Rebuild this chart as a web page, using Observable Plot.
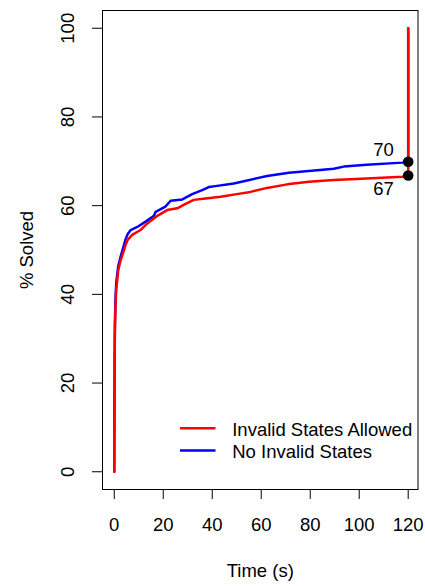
<!DOCTYPE html>
<html>
<head>
<meta charset="utf-8">
<script src="https://cdn.jsdelivr.net/npm/d3@7"></script>
<script src="https://cdn.jsdelivr.net/npm/@observablehq/plot@0.6"></script>
<style>
  html, body { margin: 0; padding: 0; background: #ffffff; }
</style>
</head>
<body>
<div id="chart"></div>
<script>
// ---- data ----
const seriesNames = ["Invalid States Allowed", "No Invalid States"];
const seriesColors = ["#ff0000", "#0000ff"];

const redTime   = [0, 0.05, 0.12, 0.25, 0.5, 0.8, 1.6, 2.5, 3.9, 4.6, 5.5, 7.3, 10.7, 13.5, 17.6, 21.6, 25.7, 29.1, 32.5, 37.3, 43.4, 50, 55.6, 62.4, 70.6, 79.4, 89.6, 103, 117.6, 120, 120];
const redSolved = [0, 10, 20, 31, 37, 41, 45.3, 47.5, 49.8, 51.1, 52.3, 53.4, 54.5, 56.0, 57.7, 59.0, 59.4, 60.4, 61.3, 61.6, 62.0, 62.6, 63.1, 64.0, 64.8, 65.4, 65.8, 66.1, 66.5, 66.8, 100];

const blueTime   = [0, 0.05, 0.12, 0.25, 0.5, 0.8, 1.6, 2.6, 3.9, 4.6, 5.5, 6.7, 9.4, 12.8, 16.2, 16.9, 20.9, 23, 27.8, 31.8, 35.9, 38.6, 41.3, 48.8, 58.4, 62.4, 71.3, 79.4, 89.6, 93.7, 103, 117.6, 120, 120];
const blueSolved = [0, 12, 22, 33, 39, 42.5, 46.3, 48.5, 51, 52.4, 53.6, 54.5, 55.2, 56.4, 57.7, 58.6, 59.8, 61.1, 61.4, 62.6, 63.5, 64.2, 64.4, 65.0, 66.2, 66.7, 67.4, 67.8, 68.3, 68.8, 69.2, 69.7, 69.9, 100];

const finalLabels = ["67", "70"];   // red, blue
const xTicks = [0, 20, 40, 60, 80, 100, 120];
const yTicks = [0, 20, 40, 60, 80, 100];
const xLabel = "Time (s)";
const yLabel = "% Solved";

// ---- build tables ----
const red  = redTime.map((t, i) => ({t, v: redSolved[i]}));
const blue = blueTime.map((t, i) => ({t, v: blueSolved[i]}));
const redEnd  = {...red[red.length - 2], label: finalLabels[0]};
const blueEnd = {...blue[blue.length - 2], label: finalLabels[1]};

const FS = 18.5;
const lineSymbol = {
  draw(context) { context.moveTo(-17.8, 0); context.lineTo(17.8, 0); }
};

const legendMarks = seriesNames.flatMap((name, i) => [
  Plot.dot([name], {frameAnchor: "bottom-left", dx: 95.2, dy: -61.3 + i * 22.3,
    symbol: lineSymbol, r: 5, stroke: seriesColors[i], strokeWidth: 2.5, fill: "none"}),
  Plot.text([name], {frameAnchor: "bottom-left", dx: 129.7, dy: -59.3 + i * 22.3,
    text: d => d, textAnchor: "start", lineAnchor: "middle", fontSize: FS, fill: "black"})
]);

const chart = Plot.plot({
  width: 425,
  height: 586,
  marginLeft: 102,
  marginRight: 7.5,
  marginTop: 10,
  marginBottom: 97,
  x: {domain: [-4.8, 124], ticks: xTicks, tickSize: 10, tickFormat: () => "", label: null, line: false},
  y: {domain: [-4, 104], ticks: yTicks, tickSize: 10, tickFormat: () => "", label: null, line: false},
  style: {fontFamily: "'Liberation Sans', Arial, Helvetica, sans-serif", fontSize: FS + "px", color: "black", background: "white"},
  marks: [
    Plot.frame({stroke: "black", strokeWidth: 1}),
    Plot.text(xTicks, {x: d => d, frameAnchor: "bottom", dy: 35.4, text: d => String(d),
      textAnchor: "middle", lineAnchor: "middle", fontSize: FS, fill: "black"}),
    Plot.text(yTicks, {y: d => d, frameAnchor: "left", dx: -34, rotate: -90, text: d => String(d),
      textAnchor: "middle", lineAnchor: "middle", fontSize: FS, fill: "black"}),
    Plot.text([xLabel], {frameAnchor: "bottom", dy: 81.4, text: d => d,
      textAnchor: "middle", lineAnchor: "middle", fontSize: FS, fill: "black"}),
    Plot.text([yLabel], {frameAnchor: "left", dx: -75, rotate: -90, text: d => d,
      textAnchor: "middle", lineAnchor: "middle", fontSize: FS, fill: "black"}),
    Plot.line(blue, {x: "t", y: "v", stroke: seriesColors[1], strokeWidth: 2.5}),
    Plot.line(red, {x: "t", y: "v", stroke: seriesColors[0], strokeWidth: 2.5}),
    Plot.dot([blueEnd, redEnd], {x: "t", y: "v", r: 5.3, fill: "black", stroke: "none"}),
    Plot.text([blueEnd], {x: "t", y: "v", text: "label", dx: -24.7, dy: -12,
      textAnchor: "middle", lineAnchor: "middle", fontSize: FS, fill: "black"}),
    Plot.text([redEnd], {x: "t", y: "v", text: "label", dx: -24.7, dy: 13.7,
      textAnchor: "middle", lineAnchor: "middle", fontSize: FS, fill: "black"}),
    ...legendMarks
  ]
});
document.getElementById("chart").appendChild(chart);
</script>
</body>
</html>
